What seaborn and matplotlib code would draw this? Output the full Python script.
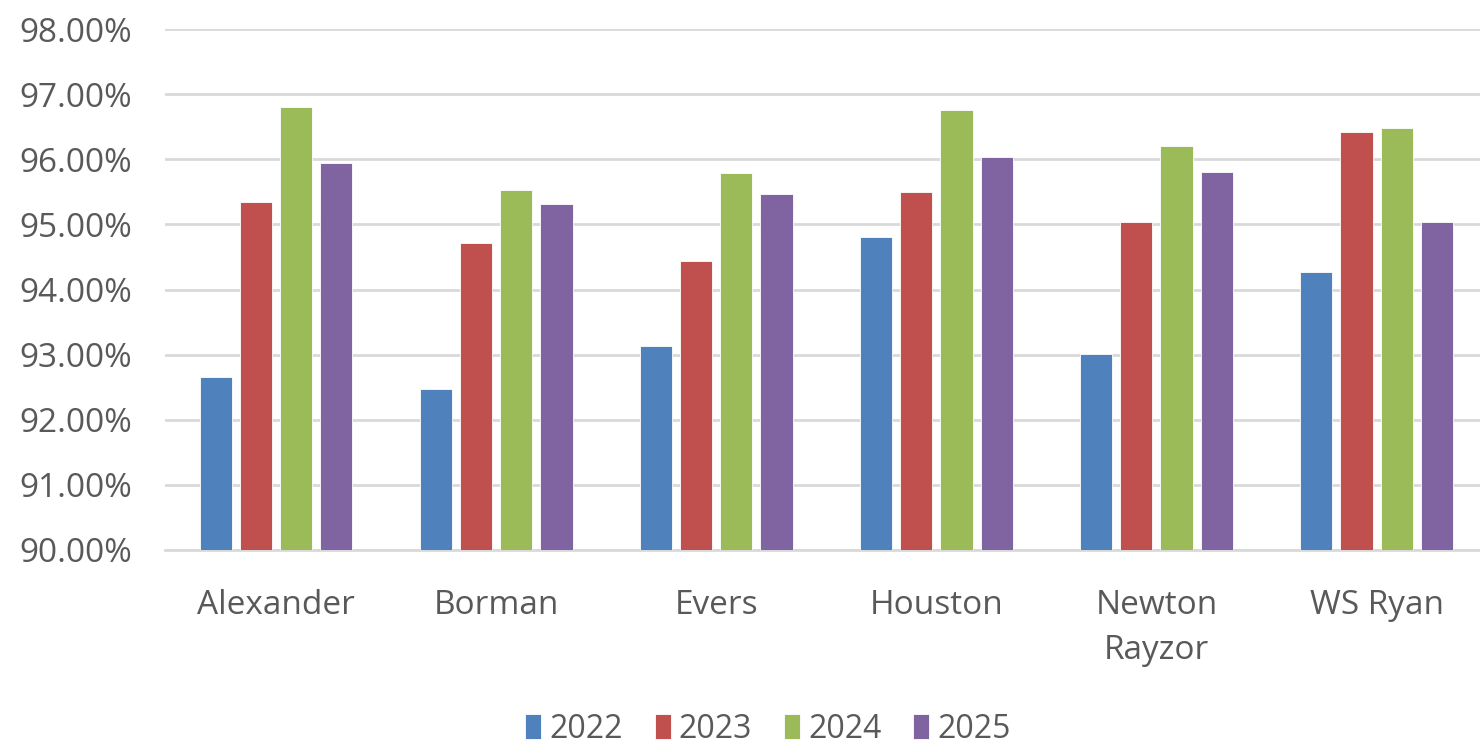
import pandas as pd
import matplotlib
matplotlib.use("Agg")
import matplotlib.pyplot as plt
import seaborn as sns
from matplotlib.ticker import FuncFormatter, MultipleLocator

# values (percent)
halls = ["Alexander", "Borman", "Evers", "Houston", "Newton\nRayzor", "WS Ryan"]
years = ["2022", "2023", "2024", "2025"]
rate_2022 = [92.66, 92.47, 93.13, 94.81, 93.01, 94.27]
rate_2023 = [95.34, 94.71, 94.43, 95.50, 95.03, 96.42]
rate_2024 = [96.80, 95.53, 95.79, 96.76, 96.20, 96.48]
rate_2025 = [95.95, 95.32, 95.47, 96.04, 95.81, 95.03]
colors = ["#4F81BD", "#C0504D", "#9BBB59", "#8064A2"]

rows = []
for year, vals in zip(years, [rate_2022, rate_2023, rate_2024, rate_2025]):
    for hall, v in zip(halls, vals):
        rows.append({"hall": hall, "year": year, "rate": v})
df = pd.DataFrame(rows)

sns.set_theme(style="white")
plt.rcParams["font.family"] = ["Open Sans", "DejaVu Sans"]

fig = plt.figure(figsize=(14.8, 7.48), dpi=100)
ax = fig.add_axes([165 / 1480, 1 - 550 / 748, 1 - 165 / 1480, (550 - 29) / 748])

sns.barplot(data=df, x="hall", y="rate", hue="year", order=halls, hue_order=years,
            palette=colors, saturation=1, width=0.73, gap=0.2,
            edgecolor="white", linewidth=0.6, ax=ax, zorder=3)

ax.set_ylim(90, 98)
ax.set_xlim(-0.505, 5.47)
ax.yaxis.set_major_locator(MultipleLocator(1))
ax.yaxis.set_major_formatter(FuncFormatter(lambda v, p: f"{v:.2f}%"))
ax.grid(axis="y", color="#D9D9D9", linewidth=2, zorder=0)
ax.set_axisbelow(True)
for s in ["top", "right", "left"]:
    ax.spines[s].set_visible(False)
ax.spines["bottom"].set_color("#D9D9D9")
ax.spines["bottom"].set_linewidth(2)
ax.set_xlabel("")
ax.set_ylabel("")
ax.tick_params(axis="both", length=0, labelsize=24, colors="#595959")
ax.tick_params(axis="y", pad=24)
ax.tick_params(axis="x", pad=28)
for lbl in ax.get_xticklabels():
    lbl.set_linespacing(1.5)

handles, labels = ax.get_legend_handles_labels()
ax.legend_.remove()
fig.legend(handles, labels, loc="center", bbox_to_anchor=(768 / 1480, 1 - 729 / 748),
           ncol=4, frameon=False, fontsize=23, labelcolor="#595959",
           handlelength=0.5, handleheight=0.8, handletextpad=0.25, columnspacing=1.0,
           borderpad=0.2)

fig.savefig("out.png", dpi=100)
